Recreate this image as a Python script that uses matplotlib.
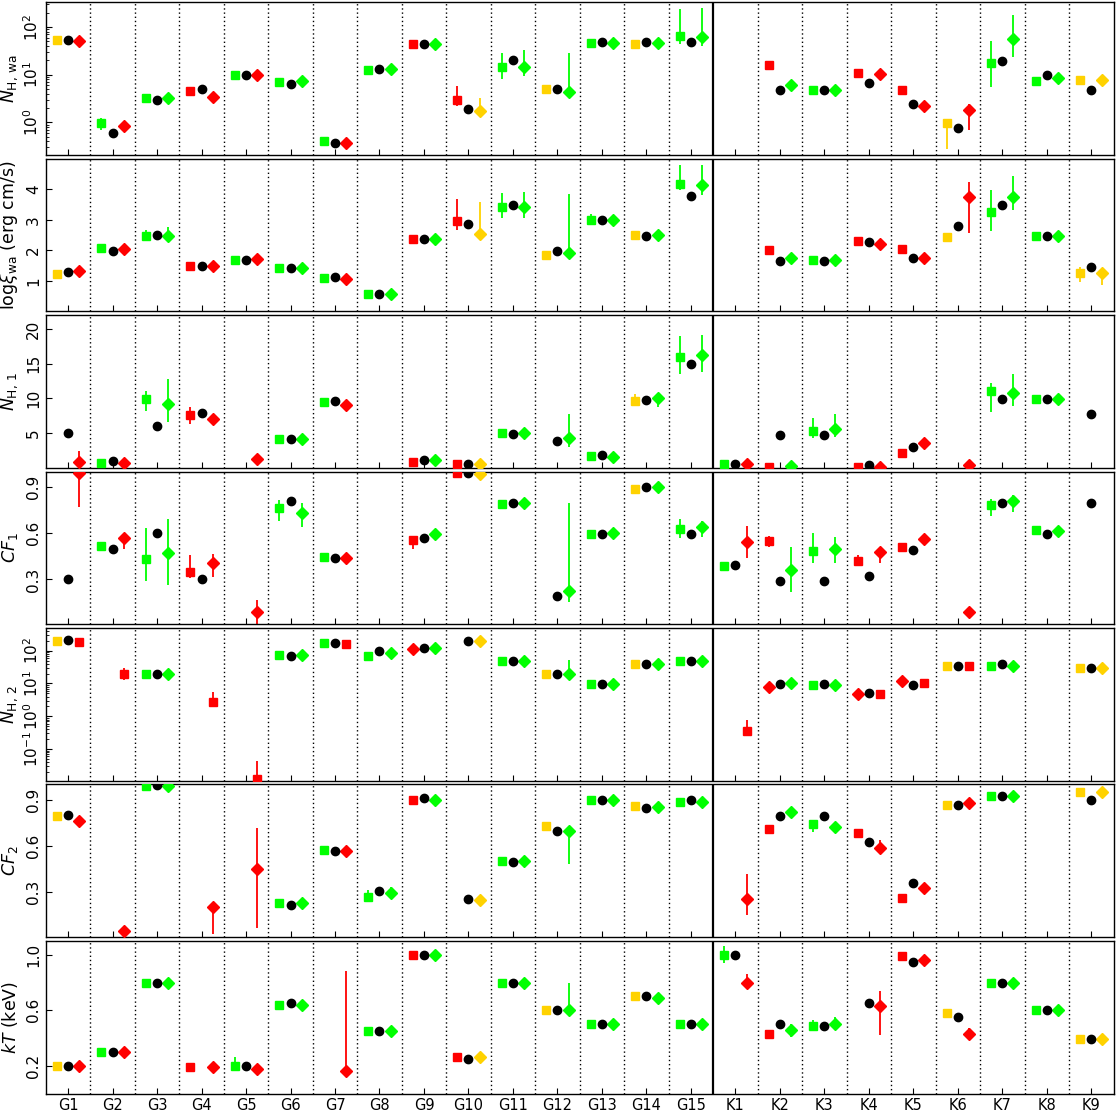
import numpy as np
import matplotlib.pyplot as plt

nan = np.nan
sources = ["G%d" % i for i in range(1, 16)] + ["K%d" % i for i in range(1, 10)]

# kind codes: first letter colour (y/r/g), second letter marker (s/d), "" = no point
# ---------------- N_H,wa
nhwa_left_kind = ["ys", "gs", "gs", "rs", "gs", "gs", "gs", "gs", "rs", "rs", "gs", "ys", "gs", "ys", "gs",
                  "", "rs", "gs", "rs", "rs", "ys", "gs", "gs", "ys"]
nhwa_left = [54, 0.97, 3.2, 4.6, 10, 7.0, 0.40, 12.3, 44, 3.0, 14.7, 5.0, 46, 44, 66,
             nan, 16, 4.8, 10.7, 4.7, 0.96, 17.6, 7.5, 7.8]
nhwa_left_err = {"G2": (0.7, 1.25), "G3": (2.9, 3.8), "G10": (2.2, 5.8), "G11": (8.2, 29),
                 "G13": (46, 52), "G15": (43, 233), "K6": (0.28, 0.96), "K7": (5.6, 52)}
nhwa_mid = [54, 0.61, 3.0, 5.1, 10, 6.5, 0.38, 13, 45, 1.9, 20, 5.0, 48, 48, 48,
            nan, 4.8, 4.8, 6.7, 2.4, 0.78, 19.7, 9.7, 4.8]
nhwa_right_kind = ["rd", "rd", "gd", "rd", "rd", "gd", "rd", "gd", "gd", "yd", "gd", "gd", "gd", "gd", "gd",
                   "", "gd", "gd", "rd", "rd", "rd", "gd", "gd", "yd"]
nhwa_right = [50, 0.85, 3.3, 3.4, 10, 7.3, 0.37, 13, 43, 1.7, 14.7, 4.4, 46, 46, 61,
              nan, 6.1, 4.8, 10.5, 2.2, 1.8, 55, 8.5, 7.8]
nhwa_right_err = {"G2": (0.75, 1.0), "G3": (2.9, 4.0), "G10": (1.4, 3.2), "G11": (9.2, 33),
                  "G12": (3.7, 28), "G15": (40, 245), "K6": (0.7, 2.4), "K7": (24, 180)}

# ---------------- log xi_wa
xi_left_kind = nhwa_left_kind
xi_left = [1.22, 2.07, 2.47, 1.49, 1.69, 1.42, 1.10, 0.58, 2.375, 2.97, 3.41, 1.85, 3.0, 2.5, 4.18,
           nan, 2.0, 1.68, 2.30, 2.03, 2.44, 3.24, 2.47, 1.26]
xi_left_err = {"G3": (2.4, 2.65), "G10": (2.65, 3.69), "G11": (3.07, 3.89), "G13": (2.95, 3.18),
               "G15": (3.99, 4.8), "K7": (2.62, 3.97), "K9": (0.96, 1.46)}
xi_mid = [1.28, 1.99, 2.5, 1.5, 1.69, 1.42, 1.14, 0.58, 2.375, 2.875, 3.49, 1.99, 2.98, 2.48, 3.78,
          nan, 1.66, 1.66, 2.27, 1.76, 2.78, 3.48, 2.47, 1.46]
xi_right_kind = nhwa_right_kind
xi_right = [1.31, 2.05, 2.47, 1.49, 1.72, 1.42, 1.06, 0.58, 2.375, 2.53, 3.41, 1.90, 2.98, 2.51, 4.15,
            nan, 1.74, 1.68, 2.21, 1.75, 3.74, 3.74, 2.47, 1.26]
xi_right_err = {"G3": (2.3, 2.76), "G10": (2.42, 3.58), "G11": (3.07, 3.92), "G12": (1.78, 3.85),
                "G15": (3.8, 4.8), "K6": (2.55, 4.25), "K7": (3.33, 4.42), "K9": (0.85, 1.41)}

# ---------------- N_H,1
nh1_left_kind = ["", "gs", "gs", "rs", "", "gs", "gs", "", "rs", "rs", "gs", "", "gs", "ys", "gs",
                 "gs", "rs", "gs", "rs", "rs", "", "gs", "gs", ""]
nh1_left = [nan, 0.7, 9.85, 7.55, nan, 4.15, 9.45, nan, 0.8, 0.55, 5.0, nan, 1.64, 9.62, 15.9,
            0.54, 0.15, 5.32, 0.1, 2.14, nan, 11.07, 9.87, nan]
nh1_left_err = {"G3": (8.2, 11.1), "G4": (6.25, 8.75), "G14": (9.62, 10.6), "G15": (13.5, 19.05),
                "K3": (4.3, 7.2), "K7": (8.1, 12.2)}
nh1_mid = [5.0, 0.95, 5.95, 7.95, nan, 4.2, 9.65, nan, 1.1, 0.5, 4.9, 3.8, 1.8, 9.82, 14.9,
           0.54, 4.78, 4.78, 0.44, 2.96, nan, 9.87, 9.87, 7.8]
nh1_right_kind = ["rd", "rd", "gd", "rd", "rd", "gd", "rd", "", "gd", "yd", "gd", "gd", "gd", "gd", "gd",
                  "rd", "gd", "gd", "rd", "rd", "rd", "gd", "gd", ""]
nh1_right = [0.85, 0.7, 9.2, 7.05, 1.3, 4.15, 9.0, nan, 1.1, 0.6, 4.95, 4.27, 1.55, 10.07, 16.3,
             0.6, 0.23, 5.63, 0.05, 3.52, 0.44, 10.78, 9.87, nan]
nh1_right_err = {"G1": (0.0, 2.45), "G3": (6.6, 12.75), "G4": (6.1, 7.6), "G12": (3.06, 7.7),
                 "G14": (8.7, 10.7), "G15": (13.85, 19.2), "K3": (4.43, 7.8), "K7": (8.96, 13.5)}

# ---------------- CF_1
cf1_left_kind = nh1_left_kind
cf1_left = [nan, 0.517, 0.432, 0.351, nan, 0.761, 0.445, nan, 0.555, 0.99, 0.788, nan, 0.593, 0.887, 0.63,
            0.39, 0.548, 0.487, 0.42, 0.512, nan, 0.786, 0.618, nan]
cf1_left_err = {"G3": (0.289, 0.633), "G4": (0.307, 0.459), "G6": (0.678, 0.813), "G9": (0.497, 0.575),
                "G15": (0.571, 0.69), "K2": (0.51, 0.58), "K3": (0.408, 0.6), "K4": (0.39, 0.46),
                "K7": (0.713, 0.82)}
cf1_mid = [0.3, 0.5, 0.6, 0.3, nan, 0.808, 0.439, nan, 0.569, 0.99, 0.797, 0.191, 0.593, 0.898, 0.593,
           0.394, 0.293, 0.293, 0.322, 0.494, nan, 0.797, 0.598, 0.797]
cf1_right_kind = nh1_right_kind
cf1_right = [0.99, 0.566, 0.47, 0.407, 0.09, 0.73, 0.439, nan, 0.598, 0.985, 0.795, 0.223, 0.60, 0.898, 0.64,
             0.544, 0.359, 0.499, 0.48, 0.56, 0.092, 0.808, 0.613, nan]
cf1_right_err = {"G1": (0.77, 1.0), "G2": (0.50, 0.60), "G3": (0.262, 0.694), "G4": (0.318, 0.468),
                 "G5": (0.011, 0.168), "G6": (0.642, 0.795), "G12": (0.155, 0.797), "G15": (0.575, 0.68),
                 "K1": (0.442, 0.65), "K2": (0.22, 0.51), "K3": (0.408, 0.577), "K4": (0.408, 0.48),
                 "K6": (0.05, 0.092), "K7": (0.74, 0.85)}

# ---------------- N_H,2
nh2_left_kind = ["ys", "", "gs", "", "", "gs", "gs", "gs", "rd", "", "gs", "ys", "gs", "ys", "gs",
                 "", "rd", "gs", "rd", "rd", "ys", "gs", "", "ys"]
nh2_left = [194, nan, 20, nan, nan, 76, 167, 71, 116, nan, 50, 20, 9.8, 38, 48,
            nan, 8.0, 9.1, 4.7, 12, 34, 35, nan, 29]
nh2_left_err = {}
nh2_mid = [204, nan, 20, nan, nan, 71, 167, 98, 118, 194, 50, 20, 9.8, 38, 48,
           nan, 9.8, 9.8, 5.0, 9.1, 34, 39, nan, 29]
nh2_right_kind = ["rs", "rs", "gd", "rs", "rs", "gd", "rs", "gd", "gd", "yd", "gd", "gd", "gd", "gd", "gd",
                  "rs", "gd", "gd", "rs", "rs", "rs", "gd", "", "yd"]
nh2_right = [185, 20, 20, 2.7, 0.012, 76, 163, 87, 118, 194, 50, 19, 9.8, 38, 48,
             0.37, 10.6, 9.1, 4.7, 10.4, 35, 35, nan, 29]
nh2_right_err = {"G2": (13, 29), "G4": (2.7, 5.6), "G5": (0.011, 0.045), "G12": (19, 51),
                 "K1": (0.25, 0.79)}

# ---------------- CF_2
cf2_left_kind = ["ys", "", "gs", "", "", "gs", "gs", "gs", "rs", "", "gs", "ys", "gs", "ys", "gs",
                 "", "rs", "gs", "rs", "rs", "ys", "gs", "", "ys"]
cf2_left = [0.795, nan, 0.99, nan, nan, 0.231, 0.573, 0.269, 0.902, nan, 0.506, 0.728, 0.899, 0.858, 0.887,
            nan, 0.713, 0.741, 0.682, 0.266, 0.869, 0.924, nan, 0.948]
cf2_left_err = {"G8": (0.26, 0.318), "K2": (0.68, 0.713), "K3": (0.69, 0.77)}
cf2_mid = [0.8, nan, 0.995, nan, nan, 0.219, 0.569, 0.309, 0.909, 0.26, 0.5, 0.698, 0.899, 0.849, 0.899,
           nan, 0.797, 0.797, 0.628, 0.363, 0.869, 0.928, nan, 0.896]
cf2_right_kind = ["rd", "rd", "gd", "rd", "rd", "gd", "rd", "gd", "gd", "yd", "gd", "gd", "gd", "gd", "gd",
                  "rd", "gd", "gd", "rd", "rd", "rd", "gd", "", "yd"]
cf2_right = [0.761, 0.05, 0.99, 0.206, 0.452, 0.228, 0.569, 0.296, 0.9, 0.251, 0.506, 0.696, 0.899, 0.852, 0.885,
             0.257, 0.82, 0.727, 0.589, 0.331, 0.88, 0.924, nan, 0.948]
cf2_right_err = {"G2": (0.01, 0.06), "G4": (0.03, 0.21), "G5": (0.067, 0.72), "G8": (0.28, 0.336),
                 "G12": (0.487, 0.70), "K1": (0.153, 0.42), "K4": (0.589, 0.64)}

# ---------------- kT
kt_left_kind = ["ys", "gs", "gs", "rs", "gs", "gs", "", "gs", "rs", "rs", "gs", "ys", "gs", "ys", "gs",
                "gs", "rs", "gs", "", "rs", "ys", "gs", "gs", "ys"]
kt_left = [0.2, 0.3, 0.8, 0.19, 0.2, 0.64, nan, 0.45, 1.0, 0.26, 0.8, 0.6, 0.5, 0.7, 0.5,
           1.0, 0.43, 0.49, nan, 0.99, 0.58, 0.8, 0.6, 0.39]
kt_left_err = {"G5": (0.17, 0.26), "K1": (0.94, 1.06), "K2": (0.41, 0.45), "K3": (0.46, 0.53)}
kt_mid = [0.2, 0.3, 0.8, nan, 0.2, 0.65, nan, 0.45, 1.0, 0.25, 0.8, 0.6, 0.5, 0.7, 0.5,
          1.0, 0.5, 0.49, 0.65, 0.95, 0.55, 0.8, 0.6, 0.39]
kt_right_kind = ["rd", "rd", "gd", "rd", "rd", "gd", "rd", "gd", "gd", "yd", "gd", "gd", "gd", "gd", "gd",
                 "rd", "gd", "gd", "rd", "rd", "rd", "gd", "gd", "yd"]
kt_right = [0.2, 0.3, 0.8, 0.19, 0.18, 0.64, 0.16, 0.45, 1.0, 0.26, 0.8, 0.6, 0.5, 0.69, 0.5,
            0.8, 0.46, 0.5, 0.63, 0.96, 0.43, 0.8, 0.6, 0.39]
kt_right_err = {"G7": (0.15, 0.88), "G12": (0.6, 0.8), "K1": (0.76, 0.86), "K2": (0.41, 0.5),
                "K3": (0.46, 0.55), "K4": (0.42, 0.74), "K6": (0.4, 0.47)}

colors = {"y": "#ffd200", "r": "#ff0000", "g": "#00ff00"}
markers = {"s": ("s", 6.3), "d": ("D", 5.9)}

panels = [
    (nhwa_left_kind, nhwa_left, nhwa_left_err, nhwa_mid, nhwa_right_kind, nhwa_right, nhwa_right_err,
     r"$N_{\rm H,\,wa}$", "log", (0.21, 330), None),
    (xi_left_kind, xi_left, xi_left_err, xi_mid, xi_right_kind, xi_right, xi_right_err,
     r"log$\xi_{\rm wa}$ (erg cm/s)", "linear", (0, 5), [1, 2, 3, 4]),
    (nh1_left_kind, nh1_left, nh1_left_err, nh1_mid, nh1_right_kind, nh1_right, nh1_right_err,
     r"$N_{\rm H,\,1}$", "linear", (0, 22), [5, 10, 15, 20]),
    (cf1_left_kind, cf1_left, cf1_left_err, cf1_mid, cf1_right_kind, cf1_right, cf1_right_err,
     r"$CF_1$", "linear", (0.01, 1.0), [0.3, 0.6, 0.9]),
    (nh2_left_kind, nh2_left, nh2_left_err, nh2_mid, nh2_right_kind, nh2_right, nh2_right_err,
     r"$N_{\rm H,\,2}$", "log", (0.011, 490), None),
    (cf2_left_kind, cf2_left, cf2_left_err, cf2_mid, cf2_right_kind, cf2_right, cf2_right_err,
     r"$CF_2$", "linear", (0.01, 1.0), [0.3, 0.6, 0.9]),
    (kt_left_kind, kt_left, kt_left_err, kt_mid, kt_right_kind, kt_right, kt_right_err,
     r"$kT$ (keV)", "linear", (0.0, 1.1), [0.2, 0.6, 1.0]),
]

x = np.arange(1, len(sources) + 1)
off = 0.25


def draw_point(ax, xp, val, kind, err):
    if not kind or np.isnan(val):
        return
    col = colors[kind[0]]
    mk, ms = markers[kind[1]]
    if err is not None:
        ax.vlines(xp, err[0], err[1], color=col, lw=1.3, zorder=2)
    ax.plot(xp, val, ls="none", marker=mk, ms=ms, color=col, mec=col, zorder=3)


fig, axes = plt.subplots(7, 1, figsize=(11.18, 11.13), dpi=100, sharex=True)
fig.subplots_adjust(left=0.041, right=0.996, top=0.998, bottom=0.0175, hspace=0.025)

for ax, p in zip(axes, panels):
    lk, lv, le, mv, rk, rv, re_, ylabel, scale, ylim, yt = p
    for i, name in enumerate(sources):
        draw_point(ax, x[i] - off, lv[i], lk[i], le.get(name))
        if not np.isnan(mv[i]):
            ax.plot(x[i], mv[i], ls="none", marker="o", ms=6.0, color="black", zorder=4)
        draw_point(ax, x[i] + off, rv[i], rk[i], re_.get(name))
    for b in x[:-1] + 0.5:
        if b == 15.5:
            ax.axvline(b, color="black", lw=1.6, zorder=1)
        else:
            ax.axvline(b, color="black", lw=1.0, ls=(0, (1, 2)), zorder=1)
    ax.set_yscale(scale)
    ax.set_ylim(*ylim)
    if yt is not None:
        ax.set_yticks(yt)
    ax.set_xlim(0.5, len(sources) + 0.5)
    ax.set_ylabel(ylabel, fontsize=12.5)
    ax.yaxis.set_label_coords(-0.024, 0.5)
    ax.tick_params(axis="both", which="both", direction="in", labelsize=11)
    ax.tick_params(axis="x", length=4, top=False, pad=3)
    ax.tick_params(axis="y", which="major", length=4, rotation=90)
    ax.tick_params(axis="y", which="minor", length=2)
    for t in ax.get_yticklabels():
        t.set_verticalalignment("center")
    for s in ax.spines.values():
        s.set_linewidth(1.0)

axes[-1].set_xticks(x)
axes[-1].set_xticklabels(sources, fontsize=10.5)

fig.savefig("out.png", dpi=100)
